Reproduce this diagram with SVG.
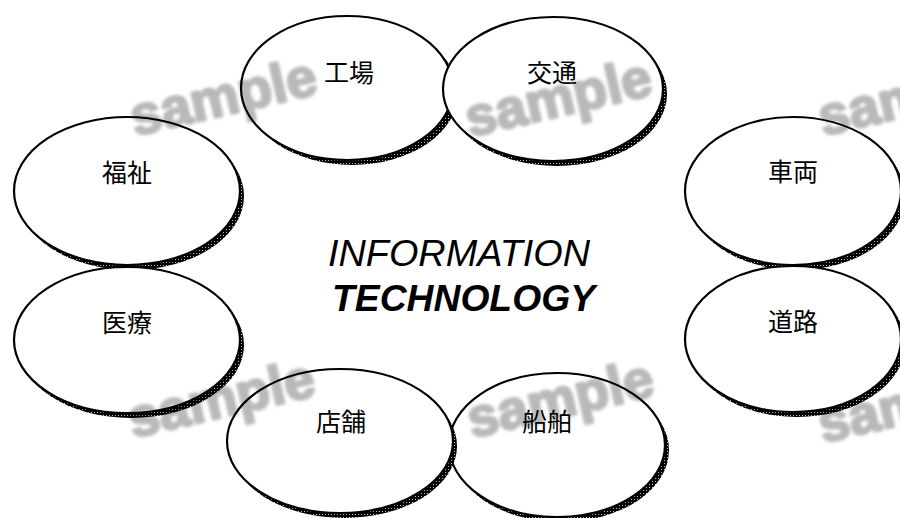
<svg xmlns="http://www.w3.org/2000/svg" width="900" height="518" viewBox="0 0 900 518">
<defs>
<pattern id="dots" width="3" height="3" patternUnits="userSpaceOnUse"><rect width="3" height="3" fill="#000"/><rect x="1" y="1" width="1" height="1" fill="#bbb"/></pattern>
<filter id="blur" x="-10%" y="-20%" width="120%" height="140%"><feGaussianBlur stdDeviation="1.5"/></filter>
</defs>
<style>
.sh{fill:url(#dots)}
.el{fill:#fff;stroke:#000;stroke-width:2.2}
.lb{font-family:"Noto Sans CJK JP","Noto Sans CJK SC",sans-serif;font-size:25px;fill:#000;text-anchor:middle}
.ct{font-family:"Liberation Sans",Arial,sans-serif;font-style:italic;font-size:36px;fill:#000}
.wm{font-family:"Liberation Sans",Arial,sans-serif;font-weight:bold;font-size:55px;fill:#b9b9b9;stroke:#b9b9b9;stroke-width:2.5;stroke-linejoin:round}
</style>
<rect width="900" height="518" fill="#fff"/>
<g id="connectors"/>
<g id="node-fukushi"><ellipse class="sh" cx="131" cy="196" rx="113" ry="74"/><ellipse class="el" cx="127" cy="191" rx="113" ry="74"/><text class="lb" x="127" y="182">福祉</text></g>
<g id="node-iryo"><ellipse class="sh" cx="131" cy="345" rx="113" ry="73"/><ellipse class="el" cx="127" cy="340" rx="113" ry="73"/><text class="lb" x="127" y="332">医療</text></g>
<g id="node-sharyo"><ellipse class="sh" cx="797" cy="196" rx="108" ry="74"/><ellipse class="el" cx="793" cy="191" rx="108" ry="74"/><text class="lb" x="793" y="181">車両</text></g>
<g id="node-doro"><ellipse class="sh" cx="797" cy="344" rx="108" ry="73"/><ellipse class="el" cx="793" cy="339" rx="108" ry="73"/><text class="lb" x="793" y="331">道路</text></g>
<g id="node-kojo"><ellipse class="sh" cx="352" cy="93" rx="106" ry="72"/><ellipse class="el" cx="347" cy="88" rx="106" ry="72"/><text class="lb" x="349" y="82">工場</text></g>
<g id="node-kotsu"><ellipse class="sh" cx="557" cy="94" rx="110" ry="72"/><ellipse class="el" cx="553" cy="89" rx="110" ry="72"/><text class="lb" x="552" y="82">交通</text></g>
<g id="node-senpaku"><ellipse class="sh" cx="561" cy="450" rx="108" ry="72"/><ellipse class="el" cx="557" cy="445" rx="108" ry="72"/><text class="lb" x="547" y="431">船舶</text></g>
<g id="node-tenpo"><ellipse class="sh" cx="344" cy="446" rx="113" ry="72"/><ellipse class="el" cx="340" cy="441" rx="113" ry="72"/><text class="lb" x="341" y="431">店舗</text></g>
<g id="center">
<text class="ct" x="328" y="266" textLength="262" lengthAdjust="spacingAndGlyphs">INFORMATION</text>
<text class="ct" x="332" y="311" font-weight="bold" textLength="263" lengthAdjust="spacingAndGlyphs">TECHNOLOGY</text>
</g>
<g id="watermarks" filter="url(#blur)" style="mix-blend-mode:multiply">
<text class="wm" x="135" y="136" transform="rotate(-13 135 136)">sample</text>
<text class="wm" x="470" y="137" transform="rotate(-13 470 137)">sample</text>
<text class="wm" x="823" y="136" transform="rotate(-13 823 136)">sample</text>
<text class="wm" x="133" y="438" transform="rotate(-13 133 438)">sample</text>
<text class="wm" x="472" y="438" transform="rotate(-13 472 438)">sample</text>
<text class="wm" x="823" y="443" transform="rotate(-13 823 443)">sample</text>
</g>
</svg>
